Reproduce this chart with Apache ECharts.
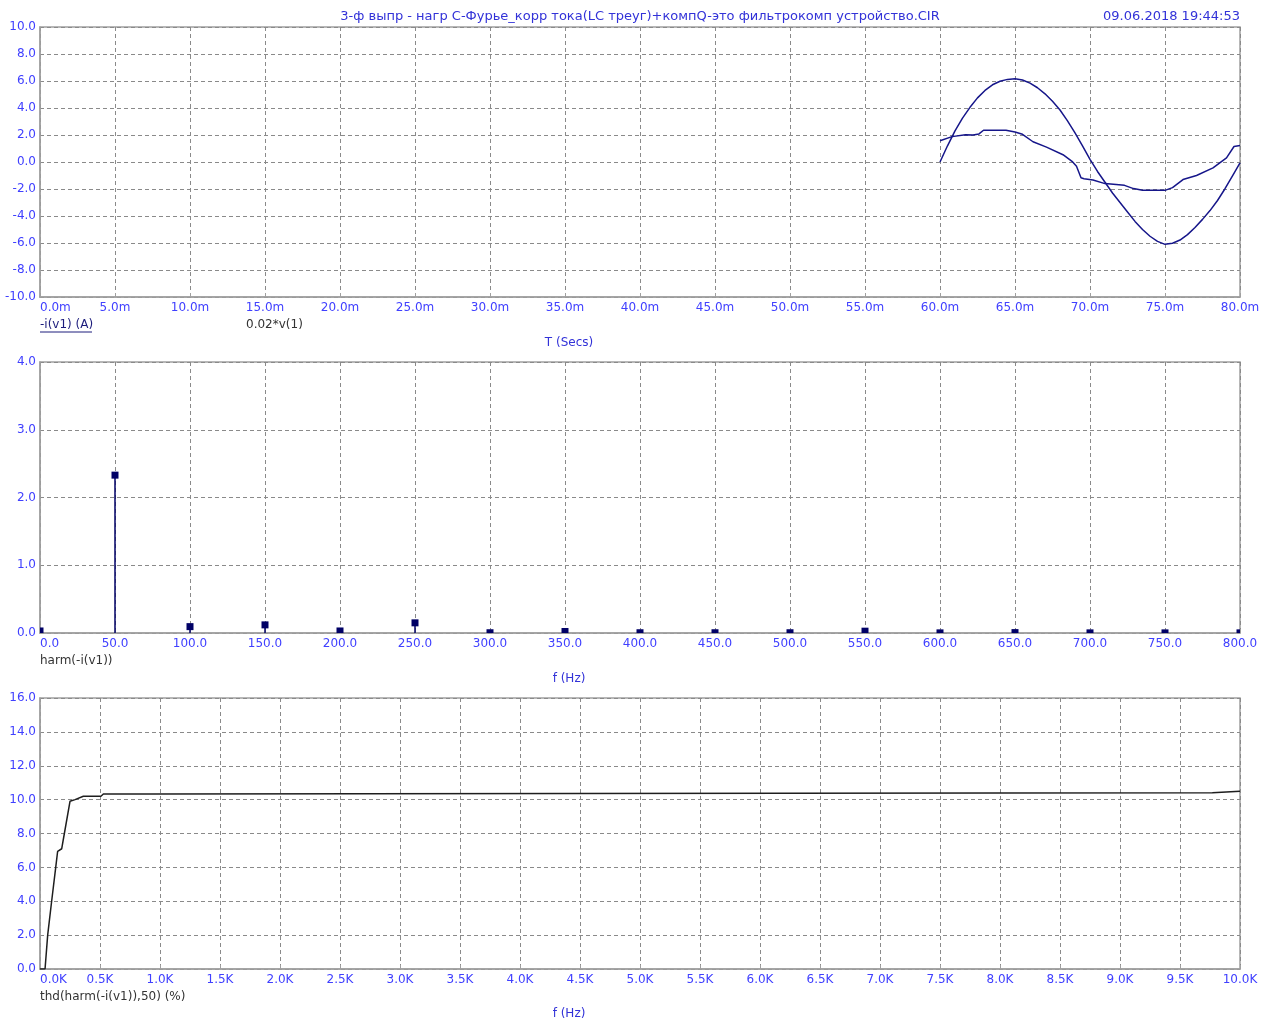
<!DOCTYPE html>
<html>
<head>
<meta charset="utf-8">
<script src="https://cdn.jsdelivr.net/npm/echarts@6/dist/echarts.min.js"></script>
<style>
  html, body { margin: 0; padding: 0; background: #ffffff; }
  #chart { width: 1267px; height: 1022px; }
</style>
</head>
<body>
<div id="chart"></div>
<script>
// Transient: -i(v1) (A), time in ms
const currentTime = [60.0, 60.8, 61.7, 62.2, 62.6, 62.9, 64.4, 65.0, 65.5, 66.2, 67.1, 68.2, 68.8, 69.1, 69.4, 69.6, 70.2, 71.0, 72.3, 72.9, 73.5, 75.0, 75.5, 76.2, 77.1, 78.2, 79.1, 79.6, 80.0];
const currentValue = [1.58, 1.88, 2.02, 2.0, 2.08, 2.35, 2.35, 2.22, 2.05, 1.5, 1.1, 0.54, 0.05, -0.32, -1.17, -1.24, -1.34, -1.6, -1.73, -1.97, -2.1, -2.1, -1.9, -1.3, -1.0, -0.44, 0.3, 1.15, 1.22];

// Transient: 0.02*v(1)
const voltageTime = [60.0, 60.5, 61.0, 61.5, 62.0, 62.5, 63.0, 63.5, 64.0, 64.5, 65.0, 65.5, 66.0, 66.5, 67.0, 67.5, 68.0, 68.5, 69.0, 69.5, 70.0, 70.5, 71.0, 71.5, 72.0, 72.5, 73.0, 73.5, 74.0, 74.5, 75.0, 75.5, 76.0, 76.5, 77.0, 77.5, 78.0, 78.5, 79.0, 79.5, 80.0];
const voltageValue = [0.0, 1.2, 2.3, 3.25, 4.05, 4.75, 5.3, 5.72, 5.98, 6.12, 6.17, 6.07, 5.84, 5.5, 5.05, 4.5, 3.85, 3.05, 2.15, 1.2, 0.2, -0.7, -1.5, -2.3, -3.0, -3.7, -4.4, -5.0, -5.5, -5.88, -6.1, -6.02, -5.78, -5.38, -4.85, -4.25, -3.6, -2.85, -1.98, -1.02, -0.07];

// Spectrum: harm(-i(v1))
const harmFreq = [0, 50, 100, 150, 200, 250, 300, 350, 400, 450, 500, 550, 600, 650, 700, 750, 800];
const harmAmp = [0.03, 2.33, 0.094, 0.12, 0.03, 0.15, 0.004, 0.022, 0.004, 0.004, 0.004, 0.027, 0.002, 0.006, 0.002, 0.002, 0.002];

// Distortion: thd(harm(-i(v1)),50) (%)
const thdFreq = [0, 42, 64, 97, 131, 147, 181, 203, 250, 292, 361, 508, 528, 930, 940, 9770, 9780, 10000];
const thdValue = [0, 0, 2.0, 4.0, 6.0, 6.95, 7.1, 8.0, 9.9, 10.0, 10.2, 10.2, 10.33, 10.33, 10.4, 10.4, 10.5, 10.5];

const FONT = 'DejaVu Sans';
const TICK_BLUE = '#4040ff';
const HEAD_BLUE = '#3232d8';
const FRAME = '#a0a0a0';
const GRID_DASH = '#8a8a8a';
const TRACE = '#16168a';
const MARK = '#000066';

function pairs(xs, ys) { return xs.map((x, i) => [x, ys[i]]); }

function xAxisCfg(idx, min, max, interval, fmt) {
  return {
    type: 'value', gridIndex: idx, min, max, interval,
    axisLine: { show: true, onZero: false, lineStyle: { color: FRAME, width: 1.5 } },
    axisTick: { show: true, inside: true, length: 4, lineStyle: { color: FRAME } },
    splitLine: { show: true, lineStyle: { color: GRID_DASH, type: [4, 3], width: 1 } },
    axisLabel: { color: TICK_BLUE, fontFamily: FONT, fontSize: 12, margin: 5,
      formatter: fmt, alignMinLabel: 'left', showMinLabel: true, showMaxLabel: true }
  };
}
function yAxisCfg(idx, min, max, interval) {
  return {
    type: 'value', gridIndex: idx, min, max, interval,
    axisLine: { show: true, onZero: false, lineStyle: { color: FRAME, width: 1.5 } },
    axisTick: { show: false },
    splitLine: { show: true, lineStyle: { color: GRID_DASH, type: [4, 3], width: 1 } },
    axisLabel: { color: TICK_BLUE, fontFamily: FONT, fontSize: 12, margin: 4,
      formatter: v => v.toFixed(1), showMinLabel: true, showMaxLabel: true }
  };
}

const chart = echarts.init(document.getElementById('chart'), null, { renderer: 'canvas' });

const gridBase = { left: 40, width: 1200, show: true, borderColor: FRAME, borderWidth: 1.5, containLabel: false };

function txt(x, y, text, color, align, size) {
  return {
    type: 'text', x, y, silent: true,
    style: { text, fill: color, font: (size || 12) + 'px "' + FONT + '"', textAlign: align || 'left', textVerticalAlign: 'middle' }
  };
}

chart.setOption({
  animation: false,
  backgroundColor: '#ffffff',
  grid: [
    Object.assign({ top: 27, height: 270 }, gridBase),
    Object.assign({ top: 362, height: 271 }, gridBase),
    Object.assign({ top: 698, height: 271 }, gridBase)
  ],
  xAxis: [
    xAxisCfg(0, 0, 80, 5, v => v.toFixed(1) + 'm'),
    xAxisCfg(1, 0, 800, 50, v => v.toFixed(1)),
    xAxisCfg(2, 0, 10000, 500, v => (v / 1000).toFixed(1) + 'K')
  ],
  yAxis: [
    yAxisCfg(0, -10, 10, 2),
    yAxisCfg(1, 0, 4, 1),
    yAxisCfg(2, 0, 16, 2)
  ],
  series: [
    {
      name: '-i(v1) (A)', type: 'line', xAxisIndex: 0, yAxisIndex: 0,
      data: pairs(currentTime, currentValue), showSymbol: false,
      lineStyle: { color: TRACE, width: 1.5 }
    },
    {
      name: '0.02*v(1)', type: 'line', xAxisIndex: 0, yAxisIndex: 0,
      data: pairs(voltageTime, voltageValue), showSymbol: false,
      lineStyle: { color: TRACE, width: 1.5 }
    },
    {
      name: 'harm(-i(v1))', type: 'custom', xAxisIndex: 1, yAxisIndex: 1, clip: true,
      data: pairs(harmFreq, harmAmp),
      renderItem: function (params, api) {
        const f = api.value(0), a = api.value(1);
        const top = api.coord([f, a]);
        const base = api.coord([f, 0]);
        return {
          type: 'group',
          children: [
            { type: 'line', shape: { x1: top[0], y1: top[1], x2: base[0], y2: base[1] },
              style: { stroke: MARK, lineWidth: 1.5 } },
            { type: 'rect', shape: { x: top[0] - 3.5, y: top[1] - 3.5, width: 7, height: 7 },
              style: { fill: MARK } }
          ]
        };
      }
    },
    {
      name: 'thd', type: 'line', xAxisIndex: 2, yAxisIndex: 2,
      data: pairs(thdFreq, thdValue), showSymbol: false,
      lineStyle: { color: '#1e1e1e', width: 1.5 }
    }
  ],
  graphic: [
    txt(640, 17, '3-ф выпр - нагр С-Фурье_корр тока(LC треуг)+компQ-это фильтрокомп устройство.CIR', HEAD_BLUE, 'center', 13),
    txt(1240, 17, '09.06.2018 19:44:53', HEAD_BLUE, 'right', 13),
    txt(40, 325, '-i(v1) (A)', '#1c1c7c', 'left'),
    { type: 'line', silent: true, shape: { x1: 40, y1: 332, x2: 92, y2: 332 }, style: { stroke: '#1c1c7c', lineWidth: 1 } },
    txt(246, 325, '0.02*v(1)', '#333333', 'left'),
    txt(569, 343, 'T (Secs)', HEAD_BLUE, 'center'),
    txt(40, 661, 'harm(-i(v1))', '#333333', 'left'),
    txt(569, 679, 'f (Hz)', HEAD_BLUE, 'center'),
    txt(40, 997, 'thd(harm(-i(v1)),50) (%)', '#333333', 'left'),
    txt(569, 1014, 'f (Hz)', HEAD_BLUE, 'center')
  ]
});
</script>
</body>
</html>
